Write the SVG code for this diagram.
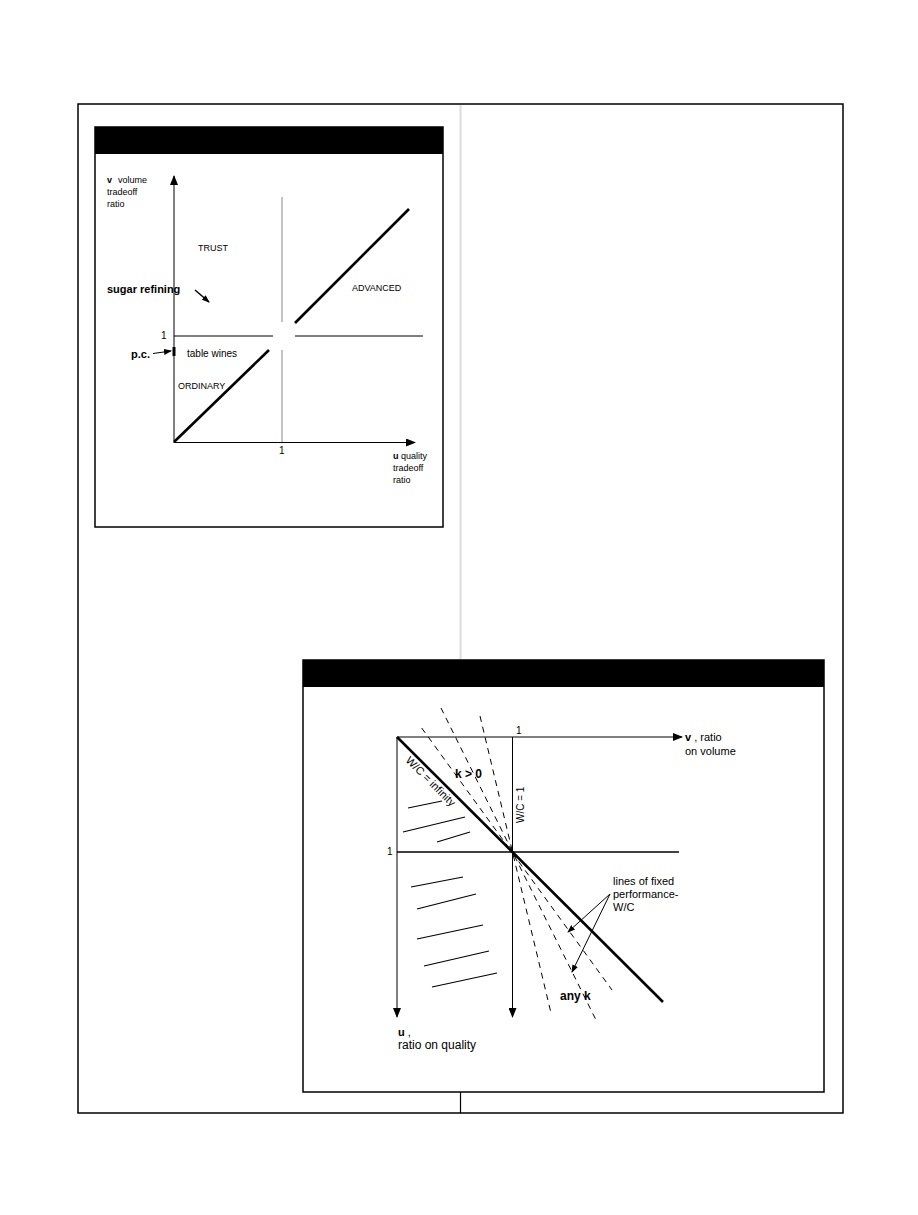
<svg xmlns="http://www.w3.org/2000/svg" width="918" height="1215" viewBox="0 0 918 1215">
<style>
text{font-family:"Liberation Sans",Arial,sans-serif;fill:#000}
.s9{font-size:9px}
.s10{font-size:10px}
.s11{font-size:11px}
.b{font-weight:bold}
.ln{stroke:#000;stroke-width:1;fill:none}
.thick{stroke:#000;stroke-width:2.6;fill:none}
.gray{stroke:#888;stroke-width:1;fill:none}
.dash{stroke:#000;stroke-width:1;fill:none;stroke-dasharray:6 5}
.hatch{stroke:#000;stroke-width:1.2;fill:none}
</style>
<defs>
<marker id="ah" markerUnits="userSpaceOnUse" markerWidth="10" markerHeight="8" refX="9" refY="4" orient="auto">
<path d="M0,0 L10,4 L0,8 z" fill="#000"/>
</marker>
<marker id="ahs" markerUnits="userSpaceOnUse" markerWidth="8" markerHeight="6" refX="7" refY="3" orient="auto">
<path d="M0,0 L8,3 L0,6 z" fill="#000"/>
</marker>
</defs>
<rect width="918" height="1215" fill="#fff"/>
<g id="frame">
<rect x="78" y="104" width="765" height="1009" fill="none" stroke="#000" stroke-width="1.5"/>
<line x1="460.5" y1="105" x2="460.5" y2="659" stroke="#ddd" stroke-width="2"/>
<line x1="460.5" y1="1092" x2="460.5" y2="1113" stroke="#000" stroke-width="1.2"/>
</g>
<g id="panel-top">
<rect x="95" y="127" width="348" height="400" fill="#fff" stroke="#000" stroke-width="1.5"/>
<rect x="95" y="127" width="348" height="27" fill="#000"/>
</g>
<g id="chart-top">
<line class="ln" x1="174" y1="443" x2="174" y2="176" marker-end="url(#ah)"/>
<line class="ln" x1="174" y1="442.5" x2="415" y2="442.5" marker-end="url(#ah)"/>
<line class="gray" x1="282" y1="197" x2="282" y2="322"/>
<line class="gray" x1="282" y1="350" x2="282" y2="442"/>
<line class="ln" x1="174" y1="336" x2="273" y2="336"/>
<line class="ln" x1="295" y1="336" x2="423" y2="336"/>
<line class="thick" x1="174" y1="442" x2="269" y2="350"/>
<line class="thick" x1="295" y1="323" x2="409" y2="209"/>
<rect x="172.5" y="347" width="3" height="9" fill="#000"/>
<line x1="153" y1="353.5" x2="171" y2="351" stroke="#000" stroke-width="1" marker-end="url(#ahs)"/>
<line x1="195" y1="290" x2="209" y2="302" stroke="#000" stroke-width="1.5" marker-end="url(#ahs)"/>
<text class="s9" x="107" y="183"><tspan class="b">v</tspan><tspan x="118">volume</tspan></text>
<text class="s9" x="107" y="195">tradeoff</text>
<text class="s9" x="107" y="207">ratio</text>
<text class="s9" x="198" y="251">TRUST</text>
<text class="s11 b" x="107" y="293">sugar refining</text>
<text class="s9" x="352" y="291">ADVANCED</text>
<text class="s10" x="161" y="339">1</text>
<text class="s11 b" x="131" y="358">p.c.</text>
<text class="s10" x="187" y="357">table wines</text>
<text class="s9" x="178" y="389">ORDINARY</text>
<text class="s10" x="279" y="454">1</text>
<text class="s9" x="393" y="459"><tspan class="b">u</tspan> quality</text>
<text class="s9" x="393" y="471">tradeoff</text>
<text class="s9" x="393" y="483">ratio</text>
</g>
<g id="panel-bottom">
<rect x="303" y="660" width="521" height="432" fill="#fff" stroke="#000" stroke-width="1.5"/>
<rect x="303" y="660" width="521" height="27" fill="#000"/>
</g>
<g id="connectors">
<line class="ln" x1="397" y1="737" x2="682" y2="737" marker-end="url(#ah)"/>
<line class="ln" x1="397" y1="737" x2="397" y2="1017" marker-end="url(#ah)"/>
<line class="ln" x1="512.5" y1="737" x2="512.5" y2="1017" marker-end="url(#ah)"/>
<line x1="397" y1="852" x2="679" y2="852" stroke="#000" stroke-width="1.5"/>
<line class="thick" x1="397" y1="737" x2="663" y2="1002"/>
<line class="dash" x1="421.7" y1="728" x2="612" y2="990"/>
<line class="dash" x1="441" y1="708" x2="596" y2="1020"/>
<line class="dash" x1="480" y1="716" x2="551" y2="1013"/>
<line class="hatch" x1="408" y1="808" x2="442" y2="801"/>
<line class="hatch" x1="403" y1="832" x2="465" y2="817"/>
<line class="hatch" x1="437" y1="842" x2="470" y2="832"/>
<line class="hatch" x1="411" y1="887" x2="463" y2="877"/>
<line class="hatch" x1="417" y1="909" x2="476" y2="894"/>
<line class="hatch" x1="417" y1="939" x2="483" y2="925"/>
<line class="hatch" x1="424" y1="966" x2="489" y2="951"/>
<line class="hatch" x1="432" y1="987" x2="497" y2="973"/>
<line class="ln" x1="610" y1="894" x2="568" y2="932" marker-end="url(#ahs)"/>
<line class="ln" x1="610" y1="894" x2="572" y2="972" marker-end="url(#ahs)"/>
</g>
<g id="labels-bottom">
<text class="s10" x="516" y="734">1</text>
<text class="s10" x="387" y="855">1</text>
<text class="s11" x="685" y="741"><tspan class="b">v</tspan> , ratio</text>
<text class="s11" x="685" y="755">on volume</text>
<text class="s11" x="398" y="1036"><tspan class="b">u</tspan> ,</text>
<text x="398" y="1049" style="font-size:12px">ratio on quality</text>
<text class="b" x="455" y="778" style="font-size:12px">k &gt; 0</text>
<text style="font-size:11px" transform="translate(405,761) rotate(45)">W/C = infinity</text>
<text class="s10" transform="translate(524,823) rotate(-90)">W/C  =  1</text>
<text class="s11" x="613" y="885">lines of fixed</text>
<text class="s11" x="613" y="898">performance-</text>
<text class="s11" x="613" y="911">W/C</text>
<text class="b" x="560" y="1000" style="font-size:12px">any k</text>
</g>
</svg>
